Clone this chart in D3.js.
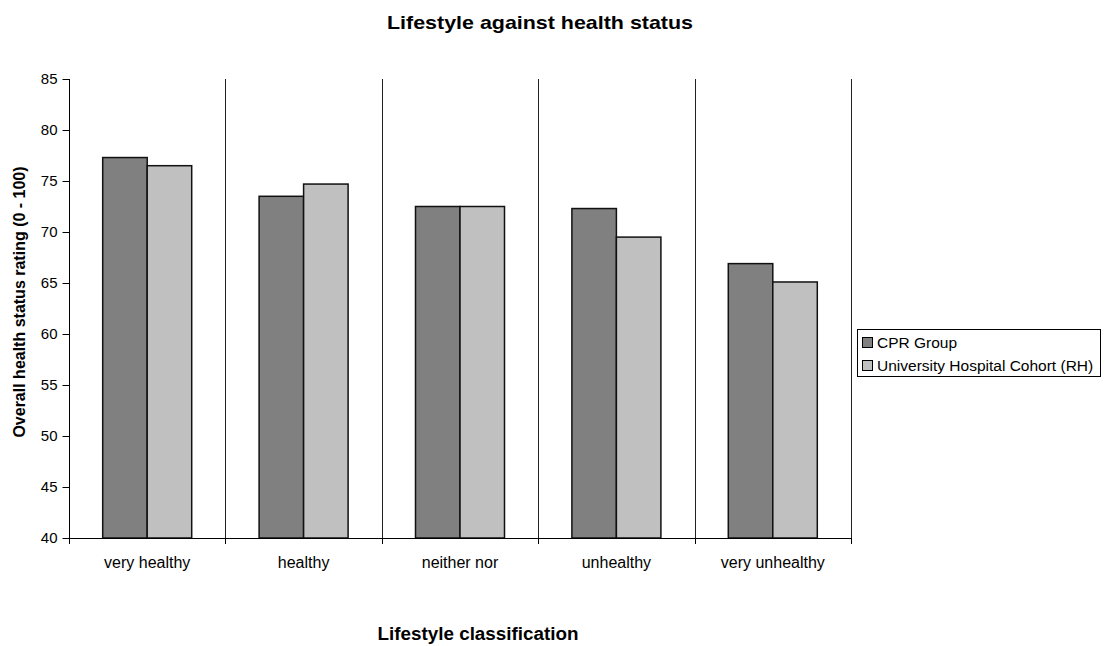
<!DOCTYPE html>
<html><head><meta charset="utf-8">
<script src="https://cdn.jsdelivr.net/npm/d3@7"></script>
<style>body{margin:0;background:#fff;}svg{display:block;font-family:"Liberation Sans",Arial,sans-serif;}</style>
</head><body>
<svg id="c" width="1106" height="646"></svg>
<script>
const categories = ["very healthy","healthy","neither nor","unhealthy","very unhealthy"];
const seriesNames = ["CPR Group","University Hospital Cohort (RH)"];
const cprValues = [77.3, 73.5, 72.5, 72.3, 66.9];
const rhValues = [76.5, 74.7, 72.5, 69.5, 65.1];
const yTicks = [40,45,50,55,60,65,70,75,80,85];
const colors = ["#808080","#c0c0c0"];

const svg = d3.select("#c");
const L = 69, R = 851, T = 79, B = 538;
const x0 = d3.scaleBand().domain(categories).range([L, R]).padding(0);
const y = d3.scaleLinear().domain([40, 85]).range([B, T]);
const bw = x0.bandwidth();
const gap = (bw - 89) / 2;
const x1 = d3.scaleBand().domain(seriesNames).range([gap, bw - gap]).padding(0);

// separators
svg.append("g").selectAll("line").data(categories).join("line")
  .attr("x1", d => Math.round(x0(d) + bw) + 0.5).attr("x2", d => Math.round(x0(d) + bw) + 0.5)
  .attr("y1", T).attr("y2", B).attr("stroke", "#222").attr("stroke-width", 1);

const data = categories.map((c, i) => ({c, vals: [cprValues[i], rhValues[i]]}));
const g = svg.append("g");
data.forEach(d => {
  d.vals.forEach((v, j) => {
    g.append("rect")
      .attr("x", x0(d.c) + x1(seriesNames[j]))
      .attr("y", y(v))
      .attr("width", x1.bandwidth())
      .attr("height", B - y(v))
      .attr("fill", colors[j])
      .attr("stroke", "#111").attr("stroke-width", 1.5);
  });
});

// y axis
const ya = d3.axisLeft(y).tickValues(yTicks).tickSize(7).tickPadding(5);
const yg = svg.append("g").attr("transform", `translate(${L + 0.5},0)`).call(ya);
yg.select(".domain").attr("stroke", "#000").attr("d", `M0,${T}V${B}`);
yg.selectAll("text").attr("font-size", 15).attr("fill", "#000").attr("font-family", "Liberation Sans, Arial");
yg.selectAll("line").attr("stroke", "#000");

// x axis
svg.append("line").attr("x1", L).attr("x2", R).attr("y1", B + 0.5).attr("y2", B + 0.5).attr("stroke", "#000");
const bounds = [L].concat(categories.map(c => x0(c) + bw));
svg.append("g").selectAll("line").data(bounds).join("line")
  .attr("x1", d => Math.round(d) + 0.5).attr("x2", d => Math.round(d) + 0.5)
  .attr("y1", B).attr("y2", B + 6).attr("stroke", "#000");
svg.append("g").selectAll("text").data(categories).join("text")
  .attr("x", d => x0(d) + bw / 2).attr("y", 568)
  .attr("text-anchor", "middle").attr("font-size", 16).text(d => d);

// titles
svg.append("text").attr("x", 540).attr("y", 29).attr("text-anchor", "middle")
  .attr("font-size", 19).attr("font-weight", "bold")
  .attr("textLength", 306).attr("lengthAdjust", "spacingAndGlyphs")
  .text("Lifestyle against health status");
svg.append("text").attr("x", 478).attr("y", 640).attr("text-anchor", "middle")
  .attr("font-size", 17.5).attr("font-weight", "bold")
  .attr("textLength", 201).attr("lengthAdjust", "spacingAndGlyphs")
  .text("Lifestyle classification");
svg.append("text").attr("transform", `translate(25,302) rotate(-90)`).attr("text-anchor", "middle")
  .attr("font-size", 16).attr("font-weight", "bold").text("Overall health status rating (0 - 100)");

// legend
const lg = svg.append("g");
lg.append("rect").attr("x", 857.5).attr("y", 329.5).attr("width", 243).attr("height", 47)
  .attr("fill", "#fff").attr("stroke", "#000");
seriesNames.forEach((s, i) => {
  const yy = 342 + i * 23;
  lg.append("rect").attr("x", 862.5).attr("y", yy - 4.5).attr("width", 10).attr("height", 10)
    .attr("fill", colors[i]).attr("stroke", "#000");
  lg.append("text").attr("x", 877).attr("y", yy + 6).attr("font-size", 15.5).text(s);
});
</script>
</body></html>
